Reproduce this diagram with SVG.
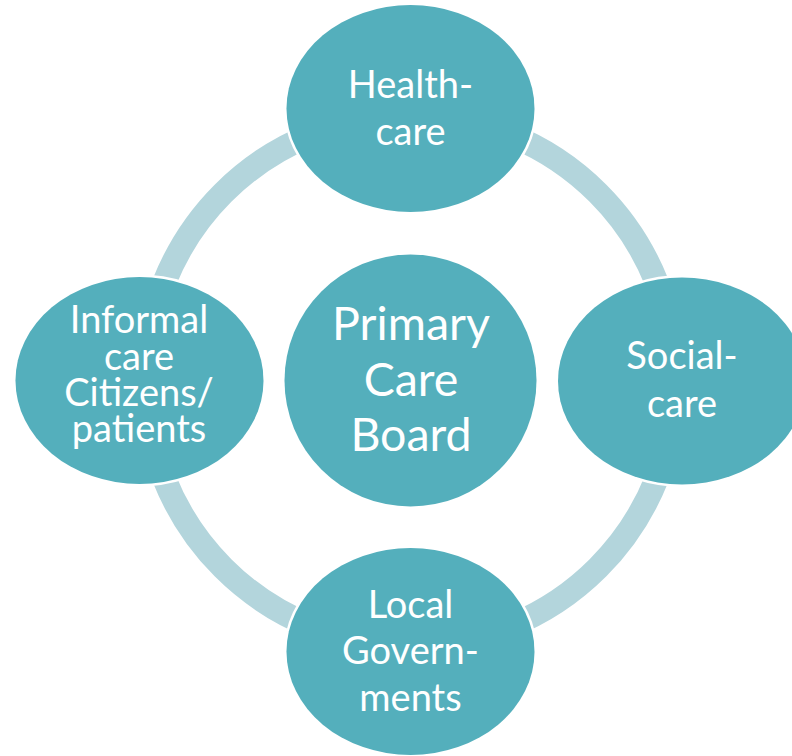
<svg xmlns="http://www.w3.org/2000/svg" width="792" height="756" viewBox="0 0 792 756">
  <style>
    .ring { fill: none; stroke: #B3D5DC; stroke-width: 24; stroke-linecap: butt; }
    .node { fill: #54AFBC; stroke: #FFFFFF; stroke-width: 5; paint-order: stroke; }
    .lbl { fill: #FFFFFF; font-family: Lato, "Open Sans", "Liberation Sans", sans-serif; text-anchor: middle; }
    .l38 { font-size: 38px; }
    .l46 { font-size: 46.5px; }
    .l37 { font-size: 38px; }
  </style>
  <rect width="792" height="756" fill="#FFFFFF"/>
  <g id="connectors">
    <path class="ring" d="M 410.5 115.5 A 265 265 0 0 1 675.5 380.5"/>
    <path class="ring" d="M 675.5 380.5 A 265 265 0 0 1 410.5 645.5"/>
    <path class="ring" d="M 410.5 645.5 A 265 265 0 0 1 145.5 380.5"/>
    <path class="ring" d="M 145.5 380.5 A 265 265 0 0 1 410.5 115.5"/>
  </g>
  <g id="node-healthcare">
    <ellipse class="node" cx="410.5" cy="108.5" rx="124" ry="103.5"/>
    <text class="lbl l38" x="410.5" y="98">Health-</text>
    <text class="lbl l38" x="410.5" y="145">care</text>
  </g>
  <g id="node-socialcare">
    <ellipse class="node" cx="682" cy="381" rx="124" ry="103.5"/>
    <text class="lbl l38" x="682" y="369">Social-</text>
    <text class="lbl l38" x="682" y="416.5">care</text>
  </g>
  <g id="node-localgov">
    <ellipse class="node" cx="410.5" cy="651.5" rx="124" ry="103.5"/>
    <text class="lbl l38" x="410.5" y="618">Local</text>
    <text class="lbl l38" x="410.5" y="664">Govern-</text>
    <text class="lbl l38" x="410.5" y="711">ments</text>
  </g>
  <g id="node-informal">
    <ellipse class="node" cx="139.5" cy="380.5" rx="124" ry="103.5"/>
    <text class="lbl l37" x="139" y="333">Informal</text>
    <text class="lbl l37" x="139" y="369.5">care</text>
    <text class="lbl l37" x="139" y="406">Citizens/</text>
    <text class="lbl l37" x="139" y="442">patients</text>
  </g>
  <g id="node-board">
    <circle class="node" cx="410.5" cy="380.5" r="126"/>
    <text class="lbl l46" x="411" y="340">Primary</text>
    <text class="lbl l46" x="411" y="395.5">Care</text>
    <text class="lbl l46" x="411" y="451">Board</text>
  </g>
</svg>
